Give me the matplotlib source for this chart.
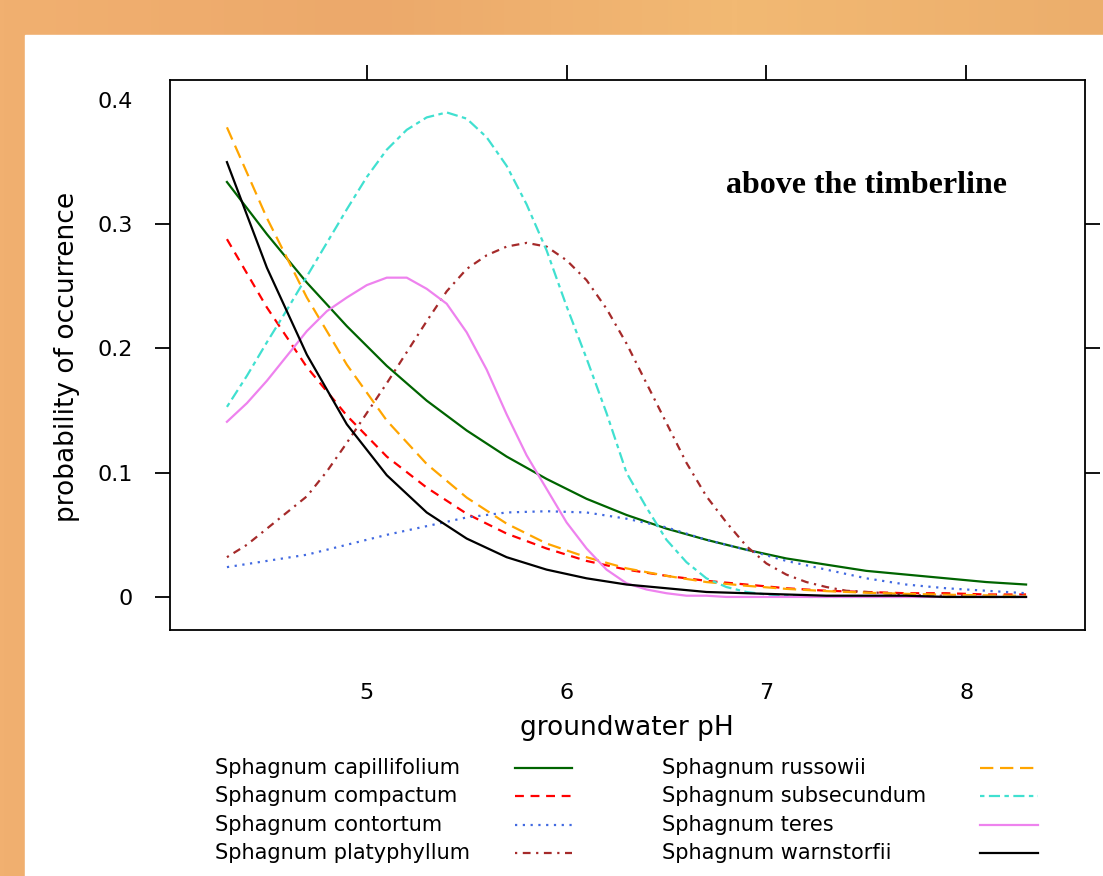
import matplotlib
matplotlib.use("Agg")
import matplotlib.pyplot as plt
from matplotlib.lines import Line2D
from matplotlib.patches import Rectangle
from matplotlib.colors import LinearSegmentedColormap
import numpy as np

W, H = 1103, 876

# groundwater pH grid for the monotone curves (read every 0.2 units)
PH = [4.3, 4.5, 4.7, 4.9, 5.1, 5.3, 5.5, 5.7, 5.9, 6.1, 6.3,
      6.5, 6.7, 6.9, 7.1, 7.3, 7.5, 7.7, 7.9, 8.1, 8.3]
# finer grid for the humped curves (every 0.1 units)
PH_FINE = [4.3, 4.4, 4.5, 4.6, 4.7, 4.8, 4.9, 5.0, 5.1, 5.2, 5.3, 5.4, 5.5, 5.6,
           5.7, 5.8, 5.9, 6.0, 6.1, 6.2, 6.3, 6.4, 6.5, 6.6, 6.7, 6.8, 6.9, 7.0,
           7.1, 7.2, 7.3, 7.4, 7.5, 7.6, 7.7, 7.8, 7.9, 8.0, 8.1, 8.2, 8.3]

CAPILLIFOLIUM = [0.334, 0.292, 0.253, 0.218, 0.186, 0.158, 0.134, 0.113, 0.095, 0.079, 0.066,
                 0.055, 0.046, 0.038, 0.031, 0.026, 0.021, 0.018, 0.015, 0.012, 0.010]
COMPACTUM = [0.288, 0.233, 0.185, 0.146, 0.113, 0.088, 0.067, 0.051, 0.039, 0.029, 0.022,
             0.017, 0.013, 0.010, 0.007, 0.005, 0.004, 0.003, 0.003, 0.002, 0.002]
CONTORTUM = [0.024, 0.029, 0.034, 0.042, 0.050, 0.057, 0.064, 0.068, 0.069, 0.068, 0.063,
             0.056, 0.046, 0.038, 0.029, 0.022, 0.015, 0.010, 0.007, 0.005, 0.003]
PLATYPHYLLUM = [0.032, 0.042, 0.055, 0.068, 0.081, 0.101, 0.124, 0.148, 0.172, 0.197, 0.222,
                0.246, 0.264, 0.275, 0.282, 0.285, 0.282, 0.271, 0.255, 0.232, 0.204,
                0.172, 0.140, 0.108, 0.081, 0.060, 0.041, 0.027, 0.018, 0.012, 0.008,
                0.005, 0.004, 0.003, 0.002, 0.001, 0.001, 0.001, 0.000, 0.000, 0.000]
RUSSOWII = [0.378, 0.305, 0.241, 0.187, 0.142, 0.107, 0.080, 0.059, 0.043, 0.032, 0.023,
            0.017, 0.012, 0.009, 0.0065, 0.0047, 0.0034, 0.0025, 0.0018, 0.0013, 0.0009]
SUBSECUNDUM = [0.153, 0.178, 0.205, 0.231, 0.258, 0.285, 0.312, 0.338, 0.360, 0.376, 0.386,
               0.390, 0.385, 0.370, 0.347, 0.316, 0.279, 0.234, 0.192, 0.148, 0.100,
               0.072, 0.046, 0.028, 0.015, 0.008, 0.004, 0.002, 0.001, 0.000, 0.000,
               0.000, 0.000, 0.000, 0.000, 0.000, 0.000, 0.000, 0.000, 0.000, 0.000]
TERES = [0.141, 0.156, 0.174, 0.194, 0.214, 0.230, 0.241, 0.251, 0.257, 0.257, 0.248,
         0.236, 0.213, 0.183, 0.147, 0.114, 0.087, 0.060, 0.039, 0.022, 0.011,
         0.006, 0.003, 0.001, 0.001, 0.000, 0.000, 0.000, 0.000, 0.000, 0.000,
         0.000, 0.000, 0.000, 0.000, 0.000, 0.000, 0.000, 0.000, 0.000, 0.000]
WARNSTORFII = [0.350, 0.265, 0.195, 0.139, 0.098, 0.068, 0.047, 0.032, 0.022, 0.015, 0.010,
               0.007, 0.004, 0.003, 0.002, 0.001, 0.001, 0.001, 0.000, 0.000, 0.000]

SPECIES = ["Sphagnum capillifolium", "Sphagnum compactum", "Sphagnum contortum",
           "Sphagnum platyphyllum", "Sphagnum russowii", "Sphagnum subsecundum",
           "Sphagnum teres", "Sphagnum warnstorfii"]
SERIES = [(PH, CAPILLIFOLIUM), (PH, COMPACTUM), (PH, CONTORTUM), (PH_FINE, PLATYPHYLLUM),
          (PH, RUSSOWII), (PH_FINE, SUBSECUNDUM), (PH_FINE, TERES), (PH, WARNSTORFII)]

X_TICKS = [5, 6, 7, 8]
Y_TICKS = [0, 0.1, 0.2, 0.3, 0.4]
Y_TICKLABELS = ["0", "0.1", "0.2", "0.3", "0.4"]

STYLES = [
    dict(color="#006400", ls="-"),
    dict(color="#ff0000", ls=(0, (4, 3))),
    dict(color="#4169e1", ls=(0, (1, 2.5))),
    dict(color="#a52a2a", ls=(0, (1, 2.5, 3.5, 2.5))),
    dict(color="#ffa500", ls=(0, (6, 3))),
    dict(color="#40e0d0", ls=(0, (2, 2, 5, 2))),
    dict(color="#ee82ee", ls="-"),
    dict(color="#000000", ls="-"),
]
LW = 1.6


def px(x, y):
    """pixel coords (from top-left) -> figure fraction"""
    return x / W, 1 - y / H


fig = plt.figure(figsize=(W / 100, H / 100), dpi=100)

# orange backdrop + white panel
bg = fig.add_axes((0, 0, 1, 1))
grad = np.linspace(0, 1, 256)[None, :]
cmap = LinearSegmentedColormap.from_list("bg", ["#f1b070", "#eca96b", "#f2b973", "#ecae6c"])
bg.imshow(grad, aspect="auto", cmap=cmap, extent=(0, 1, 0, 1))
bg.add_patch(Rectangle((25 / W, 0), 1, (H - 35) / H, color="white", zorder=2))
bg.set_xlim(0, 1)
bg.set_ylim(0, 1)
bg.set_axis_off()

l, t = px(170, 80)
r, b = px(1085, 630)
ax = fig.add_axes((l, b, r - l, t - b))

for (xs, vals), st in zip(SERIES, STYLES):
    ax.plot(xs, vals, color=st["color"], linestyle=st["ls"], lw=LW)

ax.set_xlim(4.015, 8.595)
ax.set_ylim(-0.0266, 0.4161)
ax.set_xticks(X_TICKS)
ax.set_xticklabels([str(v) for v in X_TICKS], fontsize=16)
ax.set_yticks(Y_TICKS)
ax.set_yticklabels(Y_TICKLABELS, fontsize=16)

for sp in ax.spines.values():
    sp.set_linewidth(1.3)

ax.tick_params(axis="x", which="major", bottom=True, top=True, direction="out",
               length=11, width=1.3, pad=27, labelbottom=True, labeltop=False)
for tk in ax.xaxis.get_major_ticks():
    tk.tick1line.set_visible(False)
ax.tick_params(axis="y", which="major", left=True, right=True, direction="out",
               length=11, width=1.3, pad=16, labelleft=True, labelright=False)
yt = ax.yaxis.get_major_ticks()
yt[4].tick1line.set_visible(False)
yt[0].tick2line.set_visible(False)
yt[4].tick2line.set_visible(False)

ax.text(0.761, 0.809, "above the timberline", transform=ax.transAxes,
        ha="center", va="center", fontsize=23, fontweight="bold",
        family="Liberation Serif")

fig.text(*px(627, 728), "groundwater pH", ha="center", va="center", fontsize=19)
fig.text(*px(67, 357), "probability of occurrence", ha="center", va="center",
         rotation=90, fontsize=19)

# legend: two columns, label then line sample
rows_y = [768, 796, 825, 853]
cols = [(215, 515, 572), (662, 980, 1038)]
for i, (name, st) in enumerate(zip(SPECIES, STYLES)):
    tx, lx0, lx1 = cols[i // 4]
    yy = rows_y[i % 4]
    fig.text(*px(tx, yy), name, ha="left", va="center", fontsize=15)
    x0, y0 = px(lx0, yy)
    x1, _ = px(lx1, yy)
    fig.add_artist(Line2D([x0, x1], [y0, y0], transform=fig.transFigure,
                          color=st["color"], linestyle=st["ls"], lw=LW))

fig.savefig("out.png", dpi=100)
